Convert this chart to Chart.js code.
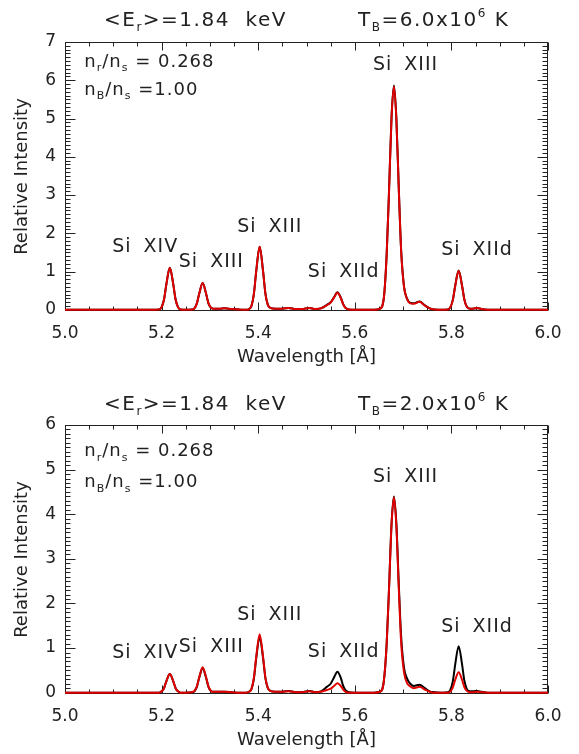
<!DOCTYPE html>
<html lang="en">
<head>
  <meta charset="UTF-8" />
  <title>Si line spectra</title>
  <script src="https://cdn.jsdelivr.net/npm/chart.js"></script>
  <style>
    html, body { margin: 0; padding: 0; background: #fff; }
    canvas { display: block; }
  </style>
</head>
<body>
  <canvas id="hot" width="579" height="377"></canvas>
  <canvas id="cool" width="579" height="377"></canvas>

  <script>
    // wavelength grid [Å], shared by all four curves
    const wavelength = [
      5.000, 5.100, 5.180,
      5.195, 5.200, 5.205, 5.210, 5.217, 5.224, 5.229, 5.234, 5.239,
      5.250,
      5.263, 5.268, 5.273, 5.278, 5.285, 5.292, 5.297, 5.302, 5.307,
      5.320, 5.330, 5.345, 5.360, 5.375,
      5.381, 5.386, 5.391, 5.396, 5.403, 5.410, 5.415, 5.420, 5.425,
      5.435, 5.450, 5.463, 5.478, 5.490, 5.506, 5.518, 5.530,
      5.542, 5.550, 5.557, 5.564, 5.571, 5.576, 5.581, 5.588,
      5.600, 5.620, 5.640,
      5.652, 5.660, 5.666, 5.671, 5.676, 5.681, 5.686, 5.691, 5.696, 5.702,
      5.708, 5.715, 5.722, 5.734, 5.745, 5.755, 5.765, 5.780,
      5.793, 5.798, 5.803, 5.808, 5.815, 5.822, 5.827, 5.832,
      5.838, 5.845, 5.853, 5.862, 5.875, 5.900, 6.000
    ];

    // T_B = 6.0e6 K
    const hotBlack = [
      0, 0, 0,
      0.01, 0.07, 0.27, 0.68, 1.10, 0.68, 0.27, 0.07, 0.01,
      0,
      0.01, 0.04, 0.17, 0.43, 0.70, 0.43, 0.17, 0.06, 0.03,
      0.03, 0.04, 0.02, 0.01, 0,
      0.02, 0.10, 0.41, 1.02, 1.65, 1.02, 0.42, 0.13, 0.05,
      0.03, 0.03, 0.05, 0.02, 0.02, 0.05, 0.02, 0.04,
      0.13, 0.20, 0.33, 0.46, 0.32, 0.15, 0.05, 0.01,
      0, 0, 0,
      0.03, 0.30, 1.46, 3.16, 5.02, 5.86, 5.02, 3.20, 1.55, 0.60,
      0.30, 0.18, 0.17, 0.22, 0.12, 0.04, 0.01, 0,
      0.01, 0.07, 0.26, 0.64, 1.03, 0.64, 0.26, 0.08,
      0.03, 0.03, 0.05, 0.02, 0, 0, 0
    ];
    const hotRed = [
      0, 0, 0,
      0.01, 0.07, 0.27, 0.68, 1.10, 0.68, 0.27, 0.07, 0.01,
      0,
      0.01, 0.04, 0.17, 0.43, 0.70, 0.43, 0.17, 0.06, 0.03,
      0.03, 0.04, 0.02, 0.01, 0,
      0.02, 0.10, 0.41, 1.02, 1.65, 1.02, 0.42, 0.13, 0.05,
      0.03, 0.03, 0.05, 0.02, 0.02, 0.05, 0.02, 0.04,
      0.12, 0.19, 0.32, 0.45, 0.31, 0.14, 0.05, 0.01,
      0, 0, 0,
      0.03, 0.30, 1.45, 3.14, 5.00, 5.84, 5.00, 3.18, 1.53, 0.59,
      0.29, 0.17, 0.16, 0.21, 0.11, 0.04, 0.01, 0,
      0.01, 0.07, 0.26, 0.63, 1.02, 0.63, 0.26, 0.08,
      0.03, 0.03, 0.05, 0.02, 0, 0, 0
    ];

    // T_B = 2.0e6 K
    const coolBlack = [
      0, 0, 0,
      0, 0.03, 0.10, 0.26, 0.42, 0.26, 0.10, 0.03, 0,
      0,
      0.01, 0.03, 0.13, 0.34, 0.55, 0.34, 0.13, 0.04, 0.02,
      0.02, 0.02, 0.01, 0, 0,
      0.02, 0.08, 0.31, 0.78, 1.25, 0.78, 0.32, 0.10, 0.04,
      0.02, 0.02, 0.04, 0.01, 0.01, 0.04, 0.01, 0.03,
      0.13, 0.20, 0.34, 0.47, 0.33, 0.15, 0.05, 0.01,
      0, 0, 0,
      0.02, 0.25, 1.10, 2.38, 3.77, 4.40, 3.80, 2.45, 1.25, 0.55,
      0.32, 0.20, 0.15, 0.18, 0.10, 0.03, 0.01, 0,
      0.01, 0.07, 0.26, 0.64, 1.04, 0.64, 0.26, 0.08,
      0.03, 0.03, 0.04, 0.02, 0, 0, 0
    ];
    const coolRed = [
      0, 0, 0,
      0, 0.03, 0.10, 0.26, 0.42, 0.26, 0.10, 0.03, 0,
      0,
      0.01, 0.04, 0.14, 0.35, 0.57, 0.35, 0.14, 0.04, 0.02,
      0.02, 0.02, 0.01, 0, 0,
      0.02, 0.08, 0.33, 0.81, 1.31, 0.81, 0.33, 0.10, 0.04,
      0.02, 0.02, 0.03, 0.01, 0.01, 0.03, 0.01, 0.02,
      0.06, 0.09, 0.15, 0.21, 0.15, 0.07, 0.02, 0,
      0, 0, 0,
      0.02, 0.25, 1.10, 2.36, 3.75, 4.38, 3.75, 2.36, 1.12, 0.45,
      0.22, 0.14, 0.10, 0.13, 0.07, 0.02, 0, 0,
      0, 0.03, 0.12, 0.29, 0.46, 0.29, 0.12, 0.04,
      0.01, 0.01, 0.02, 0.01, 0, 0, 0
    ];

    const xTicks = [5.0, 5.2, 5.4, 5.6, 5.8, 6.0];
    const hotYTicks = [0, 1, 2, 3, 4, 5, 6, 7];
    const coolYTicks = [0, 1, 2, 3, 4, 5, 6];

    // line identifications, same for both panels
    const lineNames = ['Si XIV', 'Si XIII', 'Si XIII', 'Si XIId', 'Si XIII', 'Si XIId'];
    const lineNameWl = [5.166, 5.303, 5.424, 5.577, 5.705, 5.853];
    const hotNameLevel = [1.65, 1.24, 2.17, 0.99, 6.40, 1.55];
    const coolNameLevel = [0.88, 1.03, 1.75, 0.90, 4.84, 1.48];

    const meanEnergy = '1.84';
    const ratioR = '0.268';
    const ratioB = '1.00';

    const FONT = '"DejaVu Sans", "Liberation Sans", sans-serif';
    const INK = '#222';

    // text with sub (-1) / superscript (1) pieces
    function drawRich(ctx, parts, x, y, size) {
      let cx = x;
      parts.forEach(([t, mode]) => {
        const s = mode ? Math.round(size * 0.6) : size;
        ctx.font = s + 'px ' + FONT;
        const dy = mode < 0 ? size * 0.25 : mode > 0 ? -size * 0.45 : 0;
        ctx.fillText(t, cx, y + dy);
        cx += ctx.measureText(t).width;
      });
    }

    // box with inward major/minor ticks on all four sides
    const frame = {
      id: 'frame',
      beforeDatasetsDraw(chart) {
        const { ctx, chartArea: a, scales: { x, y } } = chart;
        const L = Math.round(a.left) + 0.5, R = Math.round(a.right) - 0.5;
        const T = Math.round(a.top) + 0.5, B = Math.round(a.bottom) - 0.5;
        ctx.save();
        ctx.strokeStyle = INK;
        ctx.lineWidth = 1;
        ctx.strokeRect(L, T, R - L, B - T);
        ctx.beginPath();
        for (let i = 0; i <= 20; i++) {
          const px = Math.round(x.getPixelForValue(5 + i * 0.05)) + 0.5;
          const len = i % 4 === 0 ? 8 : 4;
          ctx.moveTo(px, B); ctx.lineTo(px, B - len);
          ctx.moveTo(px, T); ctx.lineTo(px, T + len);
        }
        for (let i = 0; i <= Math.round(y.max * 10); i++) {
          const py = Math.round(y.getPixelForValue(i / 10)) + 0.5;
          const len = i % 10 === 0 ? 10 : 5;
          ctx.moveTo(L, py); ctx.lineTo(L + len, py);
          ctx.moveTo(R, py); ctx.lineTo(R - len, py);
        }
        ctx.stroke();
        ctx.restore();
      }
    };

    const annotate = {
      id: 'annotate',
      afterDraw(chart, args, opts) {
        const { ctx, scales: { x, y } } = chart;
        ctx.save();
        ctx.fillStyle = INK;
        ctx.textBaseline = 'alphabetic';
        ctx.textAlign = 'left';
        ctx.letterSpacing = '1.5px';
        drawRich(ctx, [['<E', 0], ['r', -1], ['>=' + meanEnergy + '  keV', 0]], 104, opts.titleY, 20);
        drawRich(ctx, [['T', 0], ['B', -1], ['=' + opts.temp + 'x10', 0], ['6', 1], [' K', 0]], 358, opts.titleY, 20);

        ctx.letterSpacing = '1px';
        const nx = x.getPixelForValue(5.040);
        drawRich(ctx, [['n', 0], ['r', -1], ['/n', 0], ['s', -1], [' = ' + ratioR, 0]], nx, y.getPixelForValue(opts.ratioLevels[0]), 18);
        drawRich(ctx, [['n', 0], ['B', -1], ['/n', 0], ['s', -1], [' =' + ratioB, 0]], nx, y.getPixelForValue(opts.ratioLevels[1]), 18);

        ctx.font = '19px ' + FONT;
        ctx.textAlign = 'center';
        ctx.textBaseline = 'middle';
        ctx.wordSpacing = '5px';
        lineNames.forEach((name, i) => {
          ctx.fillText(name, x.getPixelForValue(lineNameWl[i]), y.getPixelForValue(opts.levels[i]));
        });
        ctx.restore();
      }
    };

    function makePanel(id, black, red, yTicks, cfg) {
      new Chart(document.getElementById(id), {
        type: 'line',
        data: {
          datasets: [
            { data: wavelength.map((w, i) => ({ x: w, y: black[i] })), borderColor: '#000', borderWidth: 2, order: 1 },
            { data: wavelength.map((w, i) => ({ x: w, y: red[i] })), borderColor: '#e00000', borderWidth: 2, order: 0 }
          ]
        },
        options: {
          responsive: false,
          animation: false,
          elements: {
            point: { radius: 0 },
            line: { cubicInterpolationMode: 'monotone', borderJoinStyle: 'round' }
          },
          layout: { padding: { top: cfg.top, right: 31, left: 0, bottom: 0 } },
          plugins: {
            legend: { display: false },
            tooltip: { enabled: false },
            annotate: cfg
          },
          scales: {
            x: {
              type: 'linear',
              min: 5.0,
              max: 6.0,
              afterBuildTicks: s => { s.ticks = xTicks.map(v => ({ value: v })); },
              afterFit: s => { s.height = 377 - cfg.bottom; },
              grid: { display: false, drawTicks: false },
              border: { display: false },
              ticks: {
                padding: 12,
                color: INK,
                maxRotation: 0,
                autoSkip: false,
                font: { family: FONT, size: 17 },
                callback: v => v.toFixed(1)
              },
              title: {
                display: true,
                text: 'Wavelength [Å]',
                color: INK,
                font: { family: FONT, size: 18 },
                padding: { top: 0, bottom: cfg.xTitlePad }
              }
            },
            y: {
              type: 'linear',
              min: -0.03,
              max: yTicks[yTicks.length - 1],
              afterBuildTicks: s => { s.ticks = yTicks.map(v => ({ value: v })); },
              afterFit: s => { s.width = 65; },
              grid: { display: false, drawTicks: false },
              border: { display: false },
              ticks: {
                padding: 9,
                color: INK,
                font: { family: FONT, size: 17 },
                callback: v => String(v)
              },
              title: {
                display: true,
                text: 'Relative Intensity',
                color: INK,
                font: { family: FONT, size: 18 },
                padding: { top: 12, bottom: 0 }
              }
            }
          }
        },
        plugins: [frame, annotate]
      });
    }

    makePanel('hot', hotBlack, hotRed, hotYTicks, {
      top: 42, bottom: 311, xTitlePad: 9, titleY: 26, temp: '6.0',
      levels: hotNameLevel, ratioLevels: [6.35, 5.62]
    });
    makePanel('cool', coolBlack, coolRed, coolYTicks, {
      top: 48, bottom: 317, xTitlePad: 3, titleY: 33, temp: '2.0',
      levels: coolNameLevel, ratioLevels: [5.30, 4.60]
    });
  </script>
</body>
</html>
